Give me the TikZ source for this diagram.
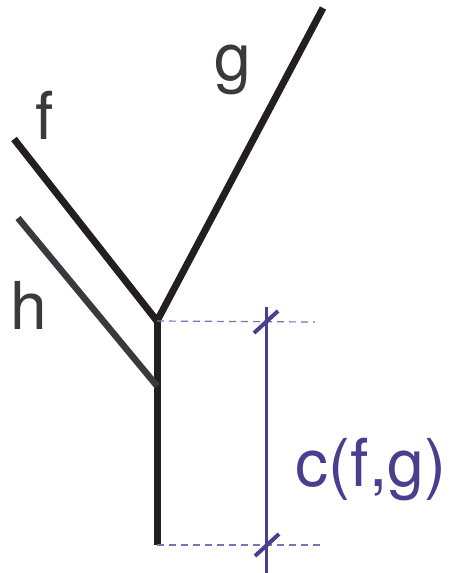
\documentclass[tikz,border=0pt]{standalone}
\usepackage{fontspec}
\setmainfont{TeX Gyre Heros}
\usetikzlibrary{calc}
\definecolor{ink}{HTML}{231F20}
\definecolor{slate}{HTML}{3A393D}
\definecolor{violet}{HTML}{4A3F8F}
\definecolor{lilac}{HTML}{7D72B4}

\begin{document}
\begin{tikzpicture}[x=1pt,y=-1pt,
  branch/.style={ink,line width=7pt},
  side/.style={slate,line width=6.5pt},
  lbl/.style={inner sep=0pt,anchor=base,text=slate,font=\fontsize{66}{70}\selectfont},
  dim/.style={violet,line width=3pt},
  tick/.style={violet,line width=4pt},
  guide/.style={lilac,line width=1.2pt,dash pattern=on 7pt off 5pt}]
\useasboundingbox (0,0) rectangle (449,573);
% tree
\coordinate (fend) at (14,139);
\coordinate (gend) at (323,8);
\coordinate (hend) at (18,218);
\coordinate (fork) at (157,321);
\coordinate (hjoin) at (157,386);
\coordinate (root) at (157,545);
\draw[branch] (fend)--(fork)--(gend);
\draw[branch] (fork)--(root);
\draw[side] (hend)--(hjoin);
\node[lbl] (flab) at (45,139) {f};
\node[lbl] (glab) at (233,80) {g};
\node[lbl] (hlab) at (29,329) {h};
% c(f,g) dimension
\coordinate (dtop) at (266,322);
\coordinate (dbot) at (266,545);
\draw[guide] (fork)--(315,322);
\draw[guide] (root)--(322,545);
\draw[dim] ($(dtop)+(0,-15)$)--(266,573);
\draw[tick] ($(dtop)+(-12,11)$)--($(dtop)+(12,-11)$);
\draw[tick] ($(dbot)+(-11,11)$)--($(dbot)+(13,-11)$);
\node[lbl,text=violet] (clab) at (371,486) {c(f,g)};
\end{tikzpicture}
\end{document}
